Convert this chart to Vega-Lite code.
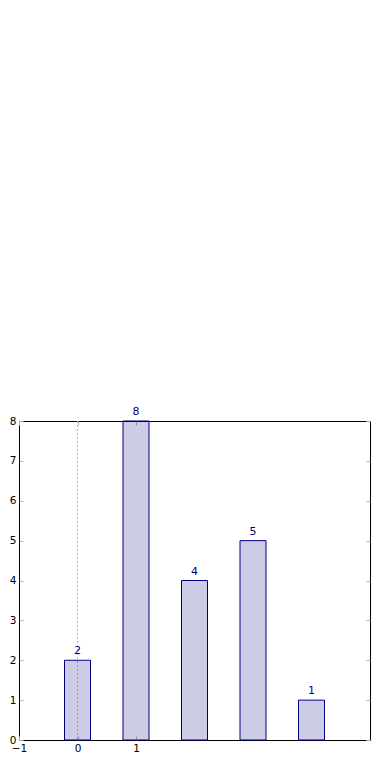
{
  "$schema": "https://vega.github.io/schema/vega-lite/v6.json",
  "width": 351,
  "height": 319,
  "autosize": "none",
  "padding": {"left": 19, "top": 421, "right": 20, "bottom": 40},
  "background": "white",
  "config": {
    "view": {"stroke": "black", "strokeWidth": 1},
    "axis": {
      "grid": false,
      "domain": false,
      "tickSize": -4,
      "tickColor": "#b0b0b0",
      "tickWidth": 1,
      "labelFont": "DejaVu Sans",
      "labelFontSize": 10.5,
      "labelColor": "black",
      "labelFlush": false,
      "labelOverlap": false,
      "title": null
    }
  },
  "data": {"values": [
    {"pos": 0, "count": 2},
    {"pos": 1, "count": 8},
    {"pos": 2, "count": 4},
    {"pos": 3, "count": 5},
    {"pos": 4, "count": 1}
  ]},
  "resolve": {"axis": {"x": "independent", "y": "independent"}},
  "layer": [
    {
      "data": {"values": [{"ref": 0}]},
      "mark": {"type": "rule", "color": "#b8b8b8", "strokeDash": [2, 2], "strokeWidth": 1},
      "encoding": {
        "x": {"field": "ref", "type": "quantitative", "scale": {"domain": [-1, 5], "nice": false, "zero": false, "padding": 0},
              "axis": {"orient": "bottom", "values": [-1, 0, 1], "labelPadding": 7, "format": "d"}}
      }
    },
    {
      "mark": {"type": "bar", "width": 26, "fill": "#000080", "fillOpacity": 0.2, "stroke": "#000080", "strokeWidth": 1},
      "encoding": {
        "x": {"field": "pos", "type": "quantitative", "scale": {"domain": [-1, 5], "nice": false, "zero": false, "padding": 0},
              "axis": {"orient": "top", "values": [-1, 0, 1], "labels": false}},
        "y": {"field": "count", "type": "quantitative", "scale": {"domain": [0, 8], "nice": false, "padding": 0},
              "axis": {"orient": "left", "values": [0,1,2,3,4,5,6,7,8], "labelPadding": 7, "format": "d"}}
      }
    },
    {
      "mark": {"type": "text", "color": "#000080", "font": "DejaVu Sans", "fontSize": 11, "baseline": "bottom", "dy": -4},
      "encoding": {
        "x": {"field": "pos", "type": "quantitative", "axis": null},
        "y": {"field": "count", "type": "quantitative",
              "axis": {"orient": "right", "values": [0,1,2,3,4,5,6,7,8], "labels": false}},
        "text": {"field": "count", "type": "quantitative"}
      }
    }
  ]
}
